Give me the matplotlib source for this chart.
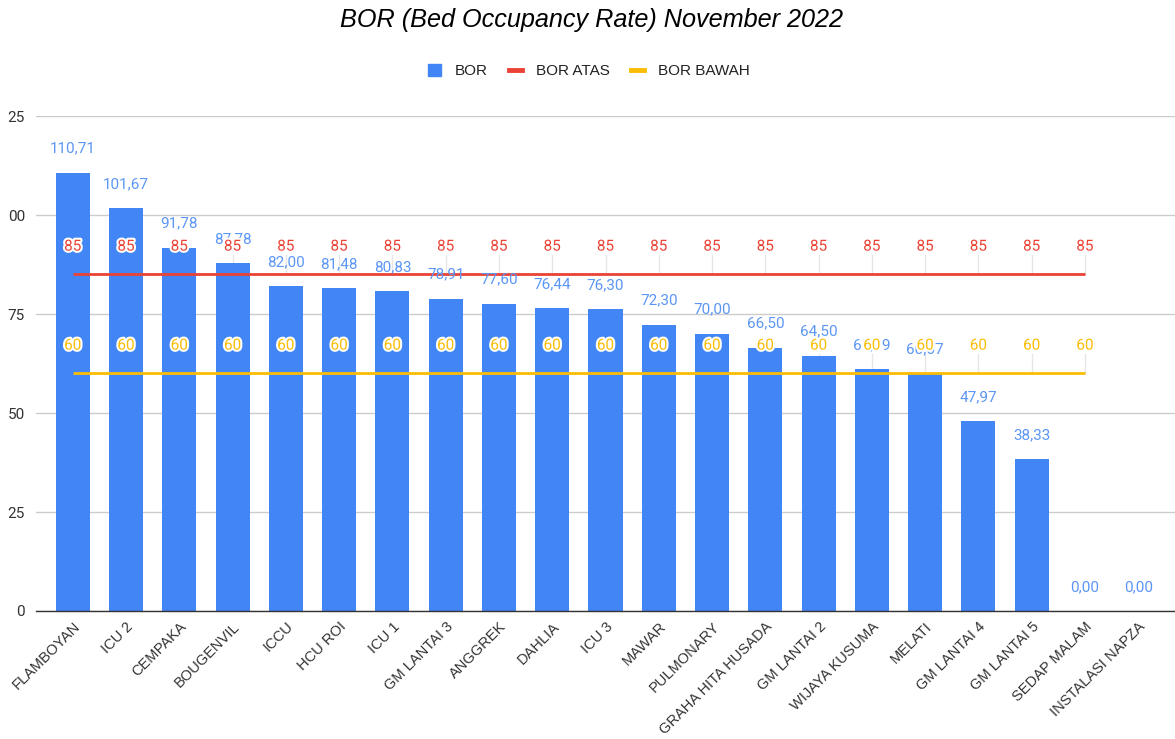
import matplotlib
matplotlib.use("Agg")
import matplotlib.pyplot as plt
import matplotlib.patheffects as pe
from matplotlib.patches import Patch
from matplotlib.lines import Line2D
import numpy as np

plt.rcParams['font.family'] = ['Roboto', 'DejaVu Sans']
ARIAL = ['Liberation Sans', 'DejaVu Sans']

categories = ["FLAMBOYAN", "ICU 2", "CEMPAKA", "BOUGENVIL", "ICCU", "HCU ROI", "ICU 1",
              "GM LANTAI 3", "ANGGREK", "DAHLIA", "ICU 3", "MAWAR", "PULMONARY",
              "GRAHA HITA HUSADA", "GM LANTAI 2", "WIJAYA KUSUMA", "MELATI", "GM LANTAI 4",
              "GM LANTAI 5", "SEDAP MALAM", "INSTALASI NAPZA"]
bor = [110.71, 101.67, 91.78, 87.78, 82.00, 81.48, 80.83, 78.91, 77.60, 76.44, 76.30,
       72.30, 70.00, 66.50, 64.50, 61.09, 60.07, 47.97, 38.33, 0.00, 0.00]
bor_atas = [85] * 20
bor_bawah = [60] * 20
ytick_values = [0, 25, 50, 75, 100, 125]
ytick_labels = ["0", "25", "50", "75", "00", "25"]

BLUE = "#4285F4"
RED = "#EA4335"
YELLOW = "#FBBC04"

fig = plt.figure(figsize=(11.75, 7.39), dpi=100)
ax = fig.add_axes([36/1175, 128/739, 1 - 36/1175, (623-128)/739])

x = np.arange(len(categories))
ax.bar(x, bor, width=0.64, color=BLUE, zorder=2)

xa = np.arange(len(bor_atas))
xb = np.arange(len(bor_bawah))
# faint leader ticks
for xi, v in zip(xa, bor_atas):
    ax.plot([xi, xi], [v, v + 5], color="#e6e6e6", lw=1, zorder=1.5)
for xi, v in zip(xb, bor_bawah):
    ax.plot([xi, xi], [v, v + 5], color="#e6e6e6", lw=1, zorder=1.5)

ax.plot(xa, bor_atas, color=RED, lw=2, zorder=3, solid_capstyle='butt')
ax.plot(xb, bor_bawah, color=YELLOW, lw=2, zorder=3, solid_capstyle='butt')

for xi, v in zip(x, bor):
    ax.annotate(f"{v:.2f}".replace(".", ","), (xi, v), xytext=(0, 17.3),
                textcoords="offset points", ha="center", va="center",
                fontsize=11, color="#5b96f5", zorder=4)

halo = [pe.withStroke(linewidth=3, foreground="white")]
for xi, v in zip(xa, bor_atas):
    ax.annotate(f"{v}", (xi, v), xytext=(0, 20), textcoords="offset points",
                ha="center", va="center", fontsize=11, color=RED, zorder=5,
                path_effects=halo)
for xi, v in zip(xb, bor_bawah):
    ax.annotate(f"{v}", (xi, v), xytext=(0, 20), textcoords="offset points",
                ha="center", va="center", fontsize=11, color=YELLOW, zorder=5,
                path_effects=halo)

ax.set_xlim(-0.69, len(categories) - 1 + 0.69)
ax.set_ylim(0, 125)
ax.set_yticks(ytick_values)
ax.set_yticklabels(ytick_labels, fontsize=11, color="#333333")
ax.yaxis.grid(True, color="#cccccc", lw=1, zorder=0)
ax.set_axisbelow(True)
ax.tick_params(axis="y", length=0, pad=8)
ax.tick_params(axis="x", length=0, pad=6)
ax.set_xticks(x)
ax.set_xticklabels(categories, rotation=45, ha="right", rotation_mode="anchor",
                   fontsize=10.5, color="#333333", family=ARIAL)
for s in ["top", "right", "left"]:
    ax.spines[s].set_visible(False)
ax.spines["bottom"].set_color("#333333")
ax.spines["bottom"].set_linewidth(1)
ax.spines["bottom"].set_zorder(6)

fig.text(592/1175, 1 - 20/739, "BOR (Bed Occupancy Rate) November 2022", ha="center",
         va="center", fontsize=18.2, style="italic", color="#000000", family=ARIAL)

handles = [Patch(facecolor=BLUE, edgecolor=BLUE),
           Line2D([0], [0], color=RED, lw=3.5),
           Line2D([0], [0], color=YELLOW, lw=3.5)]
fig.legend(handles, ["BOR", "BOR ATAS", "BOR BAWAH"], loc="center",
           bbox_to_anchor=(589/1175, 1 - 71/739), ncol=3, frameon=False,
           prop={'family': ARIAL, 'size': 11}, handlelength=0.85, handleheight=0.85,
           columnspacing=1.4, handletextpad=0.9, labelcolor="#222222")

fig.savefig("out.png", dpi=100)
